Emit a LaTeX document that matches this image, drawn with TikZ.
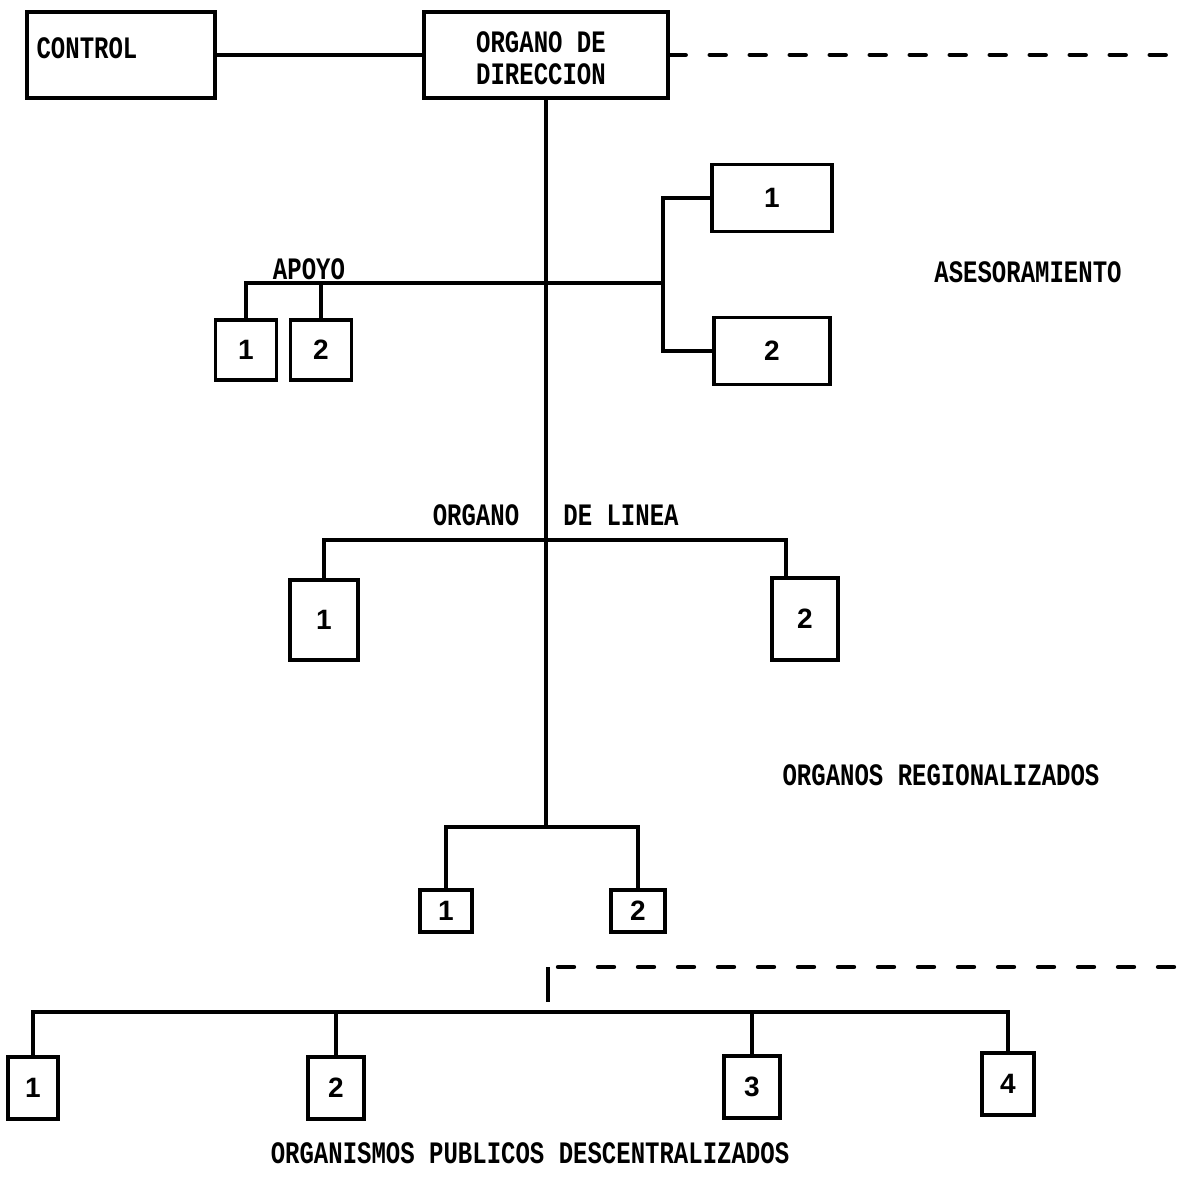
\documentclass[tikz,border=0pt]{standalone}
\usepackage{fontspec}
\usepackage{graphicx}
\usetikzlibrary{positioning,calc}
\newfontfamily\typefont{Liberation Mono}
\newfontfamily\digitfont{Liberation Sans}
\newcommand\tw[1]{\scalebox{1}[1.3]{#1}}

\begin{document}
\begin{tikzpicture}[
  x=0.5pt, y=-0.5pt,
  box/.style={draw, line width=1.7pt, inner sep=0pt,
              font=\digitfont\bfseries\fontsize{14}{16}\selectfont},
  lbl/.style={inner sep=0pt, align=center,
              font=\typefont\bfseries\fontsize{12}{16}\selectfont},
  con/.style={line width=1.6pt},
  dsh/.style={line width=2.2pt, line cap=round, dash pattern=on 8pt off 12pt}
]
\useasboundingbox (0,0) rectangle (1181,1185);

\node[box, minimum width=94pt, minimum height=43pt]  (ctrl) at (121,55) {};
\node[box, minimum width=122pt, minimum height=43pt] (dir)  at (546,55) {};
\node[lbl] (ctrltxt) at (87,48)  {\tw{CONTROL}};
\node[lbl] (dirtxt)  at (541,58) {\tw{ORGANO DE}\\\tw{DIRECCION}};
\coordinate (dirend) at (1181,55);

\draw[con] (ctrl) -- (dir);
\draw[dsh] (dir) -- (dirend);

\node[box, minimum width=60pt, minimum height=33.5pt] (as1) at (772,198) {1};
\node[box, minimum width=58pt, minimum height=33.5pt] (as2) at (772,351) {2};
\node[lbl] (astxt) at (1028,272) {\tw{ASESORAMIENTO}};
\coordinate (asj) at (663,283);

\node[box, minimum width=30.5pt, minimum height=30pt] (ap1) at (246,350) {1};
\node[box, minimum width=30.5pt, minimum height=30pt] (ap2) at (321,350) {2};
\node[lbl] (aptxt) at (309,269) {\tw{APOYO}};

\draw[con] (as1) -| (asj) |- (as2);
\draw[con] (ap1) |- (asj);
\draw[con] (ap2) -- (ap2 |- asj);

\coordinate (rj) at (546,827);
\coordinate (lj) at (546,540);
\draw[con] (dir) -- (rj);

\node[box, minimum width=34pt, minimum height=40pt] (li1) at (324,620) {1};
\node[box, minimum width=33pt, minimum height=41pt] (li2) at (805,619) {2};
\coordinate (li2top) at (786,578);
\node[lbl] (litxt1) at (476,515) {\tw{ORGANO}};
\node[lbl] (litxt2) at (621,515) {\tw{DE LINEA}};
\draw[con] (li1) |- (li2top |- lj) -- (li2top);

\node[box, minimum width=26pt, minimum height=21pt] (re1) at (446,911) {1};
\node[box, minimum width=27pt, minimum height=21pt] (re2) at (638,911) {2};
\node[lbl] (retxt) at (941,775) {\tw{ORGANOS REGIONALIZADOS}};
\draw[con] (re1) |- (rj) -| (re2);

\coordinate (bj)    at (548,1012);
\coordinate (bjtop) at (548,967);
\coordinate (bjbot) at (548,1002);
\coordinate (bdend) at (1181,967);
\draw[con] (bjtop) -- (bjbot);
\draw[dsh] ([xshift=5pt]bjtop) -- (bdend);

\node[box, minimum width=25pt, minimum height=31pt] (b1) at (33,1088)   {1};
\node[box, minimum width=28pt, minimum height=31pt] (b2) at (336,1088)  {2};
\node[box, minimum width=28pt, minimum height=31pt] (b3) at (752,1087)  {3};
\node[box, minimum width=26pt, minimum height=31pt] (b4) at (1008,1084) {4};
\draw[con] (b1) |- (bj) -| (b4);
\foreach \b in {b2,b3}
  \draw[con] (\b) -- (\b |- bj);
\node[lbl] (bttxt) at (530,1153) {\tw{ORGANISMOS PUBLICOS DESCENTRALIZADOS}};
\end{tikzpicture}
\end{document}
